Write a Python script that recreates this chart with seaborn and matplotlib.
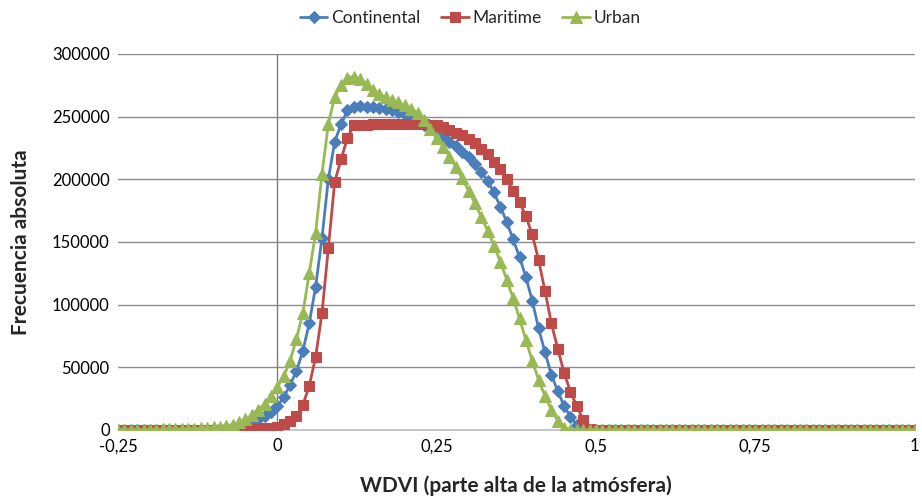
import numpy as np
import matplotlib
matplotlib.use("Agg")
import matplotlib.pyplot as plt
from matplotlib.ticker import FuncFormatter, MultipleLocator
import seaborn as sns
import pandas as pd

# WDVI values, step 0.01 from -0.25 to 1
wdvi = np.round(np.linspace(-0.25, 1.0, 126), 2)

continental = [
    0, 0, 0, 0, 0, 0, 0, 0, 0, 0, 0, 0, 0,
    150, 300, 600, 1000, 1500, 2200, 3200, 4500, 6500, 9000, 11500, 14500,
    19000, 26000, 36000, 47000, 63000, 85000, 114000, 153000, 200000, 230000,
    244000, 255000, 258000, 258500, 258000, 257500, 257000, 256000, 255000, 253500,
    252000, 249500, 246500, 243500, 240000, 237000, 233500, 230000, 226500, 222000,
    217500, 212000, 206000, 198500, 189500, 178000, 166000, 152000, 138000, 122000,
    103000, 81000, 62000, 44000, 31000, 19000, 10500, 4000, 500,
    0, 0, 0, 0, 0, 0, 0, 0, 0, 0, 0, 0, 0, 0, 0, 0, 0, 0, 0, 0, 0, 0, 0, 0, 0, 0,
    0, 0, 0, 0, 0, 0, 0, 0, 0, 0, 0, 0, 0, 0, 0, 0, 0, 0, 0, 0, 0, 0, 0, 0, 0, 0,
]

maritime = [
    0, 0, 0, 0, 0, 0, 0, 0, 0, 0, 0, 0, 0, 0, 0, 0, 0,
    50, 100, 200, 300, 500, 800, 1200, 1800,
    2700, 4500, 7000, 11000, 20000, 35000, 58000, 93000, 145000, 198000,
    216000, 233000, 243500, 243500, 243700, 243800, 244000, 244200, 244300, 244400,
    244500, 244500, 244300, 244000, 243700, 243000, 241500, 239500, 237000, 235000,
    232500, 229000, 224500, 220000, 214000, 208000, 200000, 191000, 182000, 170500,
    156000, 135500, 111000, 85000, 65000, 45500, 30500, 19000, 8000, 1000,
    0, 0, 0, 0, 0, 0, 0, 0, 0, 0, 0, 0, 0, 0, 0, 0, 0, 0, 0, 0, 0, 0, 0, 0, 0, 0,
    0, 0, 0, 0, 0, 0, 0, 0, 0, 0, 0, 0, 0, 0, 0, 0, 0, 0, 0, 0, 0, 0, 0, 0, 0,
]

urban = [
    200, 200, 250, 250, 300, 300, 350, 400, 450, 500, 600,
    700, 900, 1200, 1600, 2000, 2600, 3300, 4300, 6000, 8500, 12000, 16000, 21000, 27000,
    34000, 43000, 55000, 73000, 93000, 125000, 157000, 204000, 244000, 266000,
    275000, 281000, 282000, 280000, 276000, 271000, 268000, 265500, 263500, 261500,
    259000, 256500, 253000, 247000, 240000, 233000, 226000, 218000, 210000, 201000,
    191000, 181000, 170000, 159000, 147000, 134000, 120000, 105000, 89000, 72000,
    55000, 40000, 27000, 16000, 7500, 1500,
    0, 0, 0, 0, 0, 0, 0, 0, 0, 0, 0, 0, 0, 0, 0, 0, 0, 0, 0, 0, 0, 0, 0, 0, 0, 0, 0, 0,
    0, 0, 0, 0, 0, 0, 0, 0, 0, 0, 0, 0, 0, 0, 0, 0, 0, 0, 0, 0, 0, 0, 0, 0, 0, 0, 0,
]

series_names = ["Continental", "Maritime", "Urban"]
colors = ["#4A7EBB", "#BE4B48", "#98B954"]
markers = ["D", "s", "^"]
marker_sizes = [6, 7.5, 8]

df = pd.DataFrame({
    "wdvi": np.tile(wdvi, 3),
    "freq": continental + maritime + urban,
    "serie": np.repeat(series_names, len(wdvi)),
})

sns.set_style("white")
plt.rcParams["font.family"] = ["Lato", "DejaVu Sans"]

fig = plt.figure(figsize=(9.22, 5.0), dpi=100)
ax = fig.add_axes([0.128, 0.14, 0.864, 0.752])

for name, col, mk, ms in zip(series_names, colors, markers, marker_sizes):
    sns.lineplot(data=df[df["serie"] == name], x="wdvi", y="freq", ax=ax,
                 color=col, marker=mk, markersize=ms, markeredgecolor=col,
                 linewidth=2, label=name, zorder=3)

ax.set_xlim(-0.25, 1.0)
ax.set_ylim(0, 300000)
ax.xaxis.set_major_locator(MultipleLocator(0.25))
ax.yaxis.set_major_locator(MultipleLocator(50000))
ax.xaxis.set_major_formatter(FuncFormatter(lambda v, p: f"{v:g}".replace(".", ",")))
ax.yaxis.set_major_formatter(FuncFormatter(lambda v, p: f"{int(v)}"))

ax.grid(axis="y", color="#8C8C8C", linewidth=1)
ax.grid(axis="x", visible=False)
for s in ["top", "right", "left"]:
    ax.spines[s].set_visible(False)
ax.spines["bottom"].set_color("#BFBFBF")
ax.spines["bottom"].set_linewidth(1.2)
ax.axvline(0, color="#7F7F7F", linewidth=1, zorder=2)

ax.tick_params(axis="both", labelsize=12, colors="black", length=0, pad=6)
ax.set_xlabel("WDVI (parte alta de la atmósfera)", fontsize=15, fontweight="bold", labelpad=15)
ax.set_ylabel("Frecuencia absoluta", fontsize=15, fontweight="bold", labelpad=15)

ax.get_legend().remove()
handles, labels = ax.get_legend_handles_labels()
fig.legend(handles, labels, loc="upper center", bbox_to_anchor=(0.51, 1.012), ncol=3,
           frameon=False, fontsize=12.5, handlelength=1.6, handletextpad=0.2,
           columnspacing=1.2, numpoints=1)

fig.savefig("out.png", dpi=100)
